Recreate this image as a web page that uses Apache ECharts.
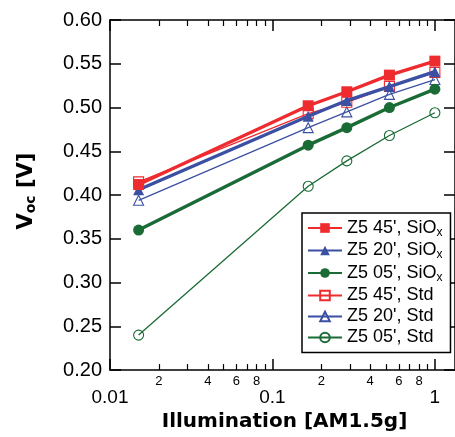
<!DOCTYPE html>
<html>
<head>
<meta charset="utf-8">
<script src="https://cdn.jsdelivr.net/npm/echarts@6/dist/echarts.min.js"></script>
<style>
  html, body { margin: 0; padding: 0; background: #fff; }
  #chart { width: 455px; height: 437px; }
</style>
</head>
<body>
<div id="chart"></div>
<script>
// illumination levels (suns, AM1.5g)
const illum = [0.015, 0.166, 0.287, 0.525, 1.0];

// Voc [V]
const sio45 = [0.412, 0.502, 0.518, 0.537, 0.553];
const sio20 = [0.406, 0.490, 0.508, 0.524, 0.541];
const sio05 = [0.360, 0.457, 0.477, 0.500, 0.521];
const std45 = [0.415, 0.493, 0.506, 0.524, 0.540];
const std20 = [0.394, 0.477, 0.495, 0.515, 0.532];
const std05 = [0.240, 0.410, 0.439, 0.468, 0.494];

const majorTicks = [0.01, 0.1, 1];
const minorTicks = [0.02, 0.03, 0.04, 0.05, 0.06, 0.07, 0.08, 0.09,
                    0.2, 0.3, 0.4, 0.5, 0.6, 0.7, 0.8, 0.9];
const minorLabels = [0.02, 0.04, 0.06, 0.08, 0.2, 0.4, 0.6, 0.8];

const RED = '#ee2b2e';
const BLUE = '#3b50a3';
const GREEN = '#1b6b36';
const FONT = '"Liberation Sans", Arial, Helvetica, sans-serif';
const TITLE_FONT = '"DejaVu Sans", "Liberation Sans", Arial, sans-serif';

const pts = ys => illum.map((x, i) => [x, ys[i]]);

function mkSeries(name, ys, color, symbol, filled) {
    return {
        name: name,
        type: 'line',
        data: pts(ys),
        symbol: symbol,
        symbolSize: filled ? 11 : 10,
        color: color,
        lineStyle: { color: color, width: filled ? 3.4 : 1.3 },
        itemStyle: filled
            ? { color: color, borderColor: color, borderWidth: 0 }
            : { color: 'rgba(255,255,255,0)', borderColor: color, borderWidth: 1.1 },
        z: filled ? 3 : 2,
        animation: false
    };
}

const xBase = {
    type: 'log',
    logBase: 10,
    min: 0.01,
    max: 1.33,
    splitLine: { show: false },
    axisLine: { show: false }
};

const chart = echarts.init(document.getElementById('chart'));
chart.setOption({
    backgroundColor: '#fff',
    textStyle: { fontFamily: FONT },
    grid: { left: 110, right: 0, top: 20, bottom: 63, containLabel: false },
    legend: {
        orient: 'vertical',
        left: 302,
        top: 213,
        width: 150,
        padding: [6, 8, 6, 5],
        itemWidth: 34,
        itemHeight: 12,
        itemGap: 3,
        borderColor: '#000',
        borderWidth: 1.5,
        backgroundColor: '#fff',
        textStyle: {
            fontFamily: FONT, fontSize: 18, color: '#000',
            rich: {
                sub: { fontFamily: FONT, fontSize: 12, color: '#000', padding: [9, 0, 0, 0] }
            }
        },
        formatter: n => n.replace('SiOx', 'SiO{sub|x}'),
        data: ["Z5 45', SiOx", "Z5 20', SiOx", "Z5 05', SiOx",
               "Z5 45', Std", "Z5 20', Std", "Z5 05', Std"]
    },
    xAxis: [
        Object.assign({}, xBase, {
            position: 'bottom',
            axisLine: { show: true, lineStyle: { color: '#000', width: 1.5 } },
            axisTick: { show: true, inside: true, length: 6, customValues: minorTicks,
                        lineStyle: { color: '#000', width: 1.2 } },
            axisLabel: { customValues: minorLabels, margin: 5, fontSize: 13, color: '#000',
                         fontFamily: FONT,
                         formatter: v => String(Math.round(v / Math.pow(10, Math.floor(Math.log10(v) + 1e-9)))) }
        }),
        Object.assign({}, xBase, {
            position: 'bottom',
            axisTick: { show: true, inside: true, length: 11, customValues: majorTicks,
                        lineStyle: { color: '#000', width: 1.5 } },
            axisLabel: { customValues: majorTicks, margin: 18, fontSize: 19, color: '#000',
                         fontFamily: FONT, formatter: v => String(v) },
            name: 'Illumination [AM1.5g]',
            nameLocation: 'middle',
            nameGap: 36,
            nameTextStyle: { fontFamily: TITLE_FONT, fontSize: 20, fontWeight: 'bold', color: '#000',
                             padding: [0, 0, 0, 4] }
        }),
        Object.assign({}, xBase, {
            position: 'top',
            axisLine: { show: true, lineStyle: { color: '#000', width: 1.5 } },
            axisTick: { show: true, inside: true, length: 6, customValues: minorTicks,
                        lineStyle: { color: '#000', width: 1.2 } },
            axisLabel: { show: false }
        }),
        Object.assign({}, xBase, {
            position: 'top',
            axisTick: { show: true, inside: true, length: 11, customValues: majorTicks,
                        lineStyle: { color: '#000', width: 1.5 } },
            axisLabel: { show: false }
        })
    ],
    yAxis: [
        {
            type: 'value',
            min: 0.2,
            max: 0.6,
            interval: 0.05,
            position: 'left',
            splitLine: { show: false },
            axisLine: { show: true, lineStyle: { color: '#000', width: 1.5 } },
            axisTick: { show: true, inside: true, length: 11, lineStyle: { color: '#000', width: 1.5 } },
            axisLabel: { margin: 8, fontSize: 20, color: '#000', fontFamily: FONT,
                         formatter: v => v.toFixed(2) },
            name: 'V{sub|oc} [V]',
            nameLocation: 'middle',
            nameGap: 72,
            nameTextStyle: {
                fontFamily: TITLE_FONT, fontSize: 21, fontWeight: 'bold', color: '#000',
                padding: [0, 0, 0, 8],
                rich: {
                    sub: { fontFamily: TITLE_FONT, fontSize: 14, fontWeight: 'bold', color: '#000',
                           padding: [9, 0, 0, 0] }
                }
            }
        },
        {
            type: 'value',
            min: 0.2,
            max: 0.6,
            interval: 0.05,
            position: 'right',
            splitLine: { show: false },
            axisLine: { show: true, lineStyle: { color: '#000', width: 1.5 } },
            axisTick: { show: true, inside: true, length: 11, lineStyle: { color: '#000', width: 1.5 } },
            axisLabel: { show: false }
        }
    ],
    series: [
        mkSeries("Z5 05', Std", std05, GREEN, 'circle', false),
        mkSeries("Z5 20', Std", std20, BLUE, 'triangle', false),
        mkSeries("Z5 45', Std", std45, RED, 'rect', false),
        mkSeries("Z5 05', SiOx", sio05, GREEN, 'circle', true),
        mkSeries("Z5 20', SiOx", sio20, BLUE, 'triangle', true),
        mkSeries("Z5 45', SiOx", sio45, RED, 'rect', true)
    ]
});
</script>
</body>
</html>
